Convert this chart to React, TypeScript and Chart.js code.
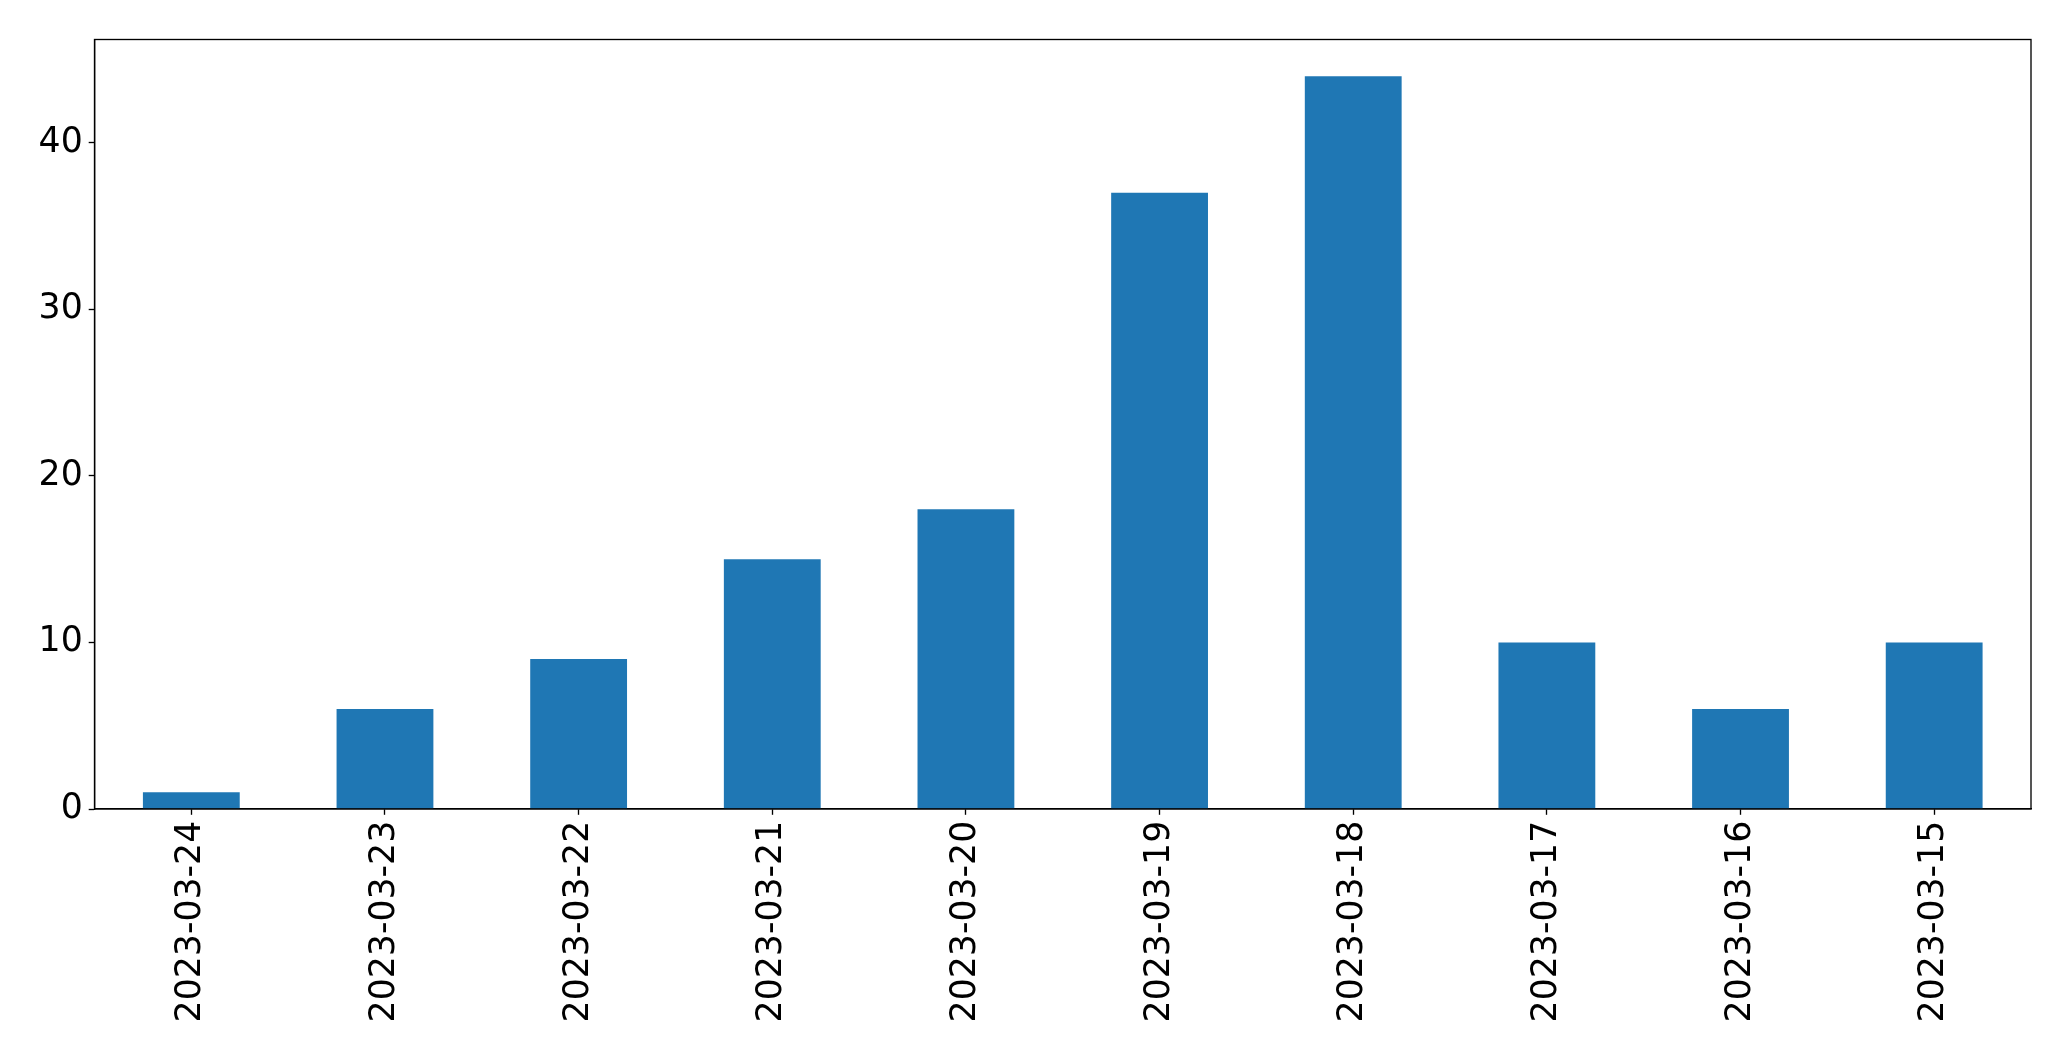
import React, { useEffect, useRef } from "react";
import { Chart, registerables } from "chart.js";

Chart.register(...registerables);

const categories = [
  "2023-03-24", "2023-03-23", "2023-03-22", "2023-03-21", "2023-03-20",
  "2023-03-19", "2023-03-18", "2023-03-17", "2023-03-16", "2023-03-15",
];
const values = [1, 6, 9, 15, 18, 37, 44, 10, 6, 10];
const yTicks = [0, 10, 20, 30, 40];
const yMax = 46.2;

const W = 2071;
const H = 1061;
const LEFT = 94.5;
const TOP = 39.5;
const RIGHT = 2031;
const BOTTOM = 809;

const frame = {
  id: "frame",
  afterDatasetsDraw(chart: any) {
    const { ctx, chartArea } = chart;
    ctx.save();
    ctx.strokeStyle = "#000";
    ctx.lineWidth = 1.33;
    ctx.strokeRect(chartArea.left, chartArea.top, chartArea.right - chartArea.left, chartArea.bottom - chartArea.top);
    ctx.restore();
  },
};

export default function App() {
  const ref = useRef<HTMLCanvasElement>(null);
  useEffect(() => {
    if (!ref.current) return;
    const font = { family: "'DejaVu Sans'", size: 34.7 };
    const chart = new Chart(ref.current, {
      type: "bar",
      data: {
        labels: categories,
        datasets: [
          {
            data: values,
            backgroundColor: "#1f77b4",
            borderWidth: 0,
            barPercentage: 0.5,
            categoryPercentage: 1,
          },
        ],
      },
      options: {
        animation: false,
        responsive: false,
        maintainAspectRatio: false,
        devicePixelRatio: 1,
        layout: { padding: { top: TOP, right: W - RIGHT, left: 0, bottom: 0 } },
        plugins: { legend: { display: false }, tooltip: { enabled: false } },
        scales: {
          x: {
            offset: true,
            grid: { display: true, drawOnChartArea: false, drawTicks: true, tickLength: 5.8, tickWidth: 1.33, tickColor: "#000", offset: false },
            border: { display: true, color: "#000", width: 1.33 },
            ticks: { color: "#000", font, minRotation: 90, maxRotation: 90, padding: 6, autoSkip: false },
            afterFit(scale: any) {
              scale.height = H - BOTTOM;
            },
          },
          y: {
            min: 0,
            max: yMax,
            grid: { display: true, drawOnChartArea: false, drawTicks: true, tickLength: 5.8, tickWidth: 1.33, tickColor: "#000" },
            border: { display: true, color: "#000", width: 1.33 },
            ticks: { color: "#000", font, padding: 6, includeBounds: false },
            afterBuildTicks(scale: any) {
              scale.ticks = yTicks.map((v) => ({ value: v }));
            },
            afterFit(scale: any) {
              scale.width = LEFT;
            },
          },
        },
      },
      plugins: [frame],
    });
    return () => chart.destroy();
  }, []);
  return (
    <div style={{ position: "fixed", left: 0, top: 0, width: W, height: H, background: "#fff" }}>
      <canvas ref={ref} width={W} height={H} style={{ width: W, height: H, display: "block" }} />
    </div>
  );
}
